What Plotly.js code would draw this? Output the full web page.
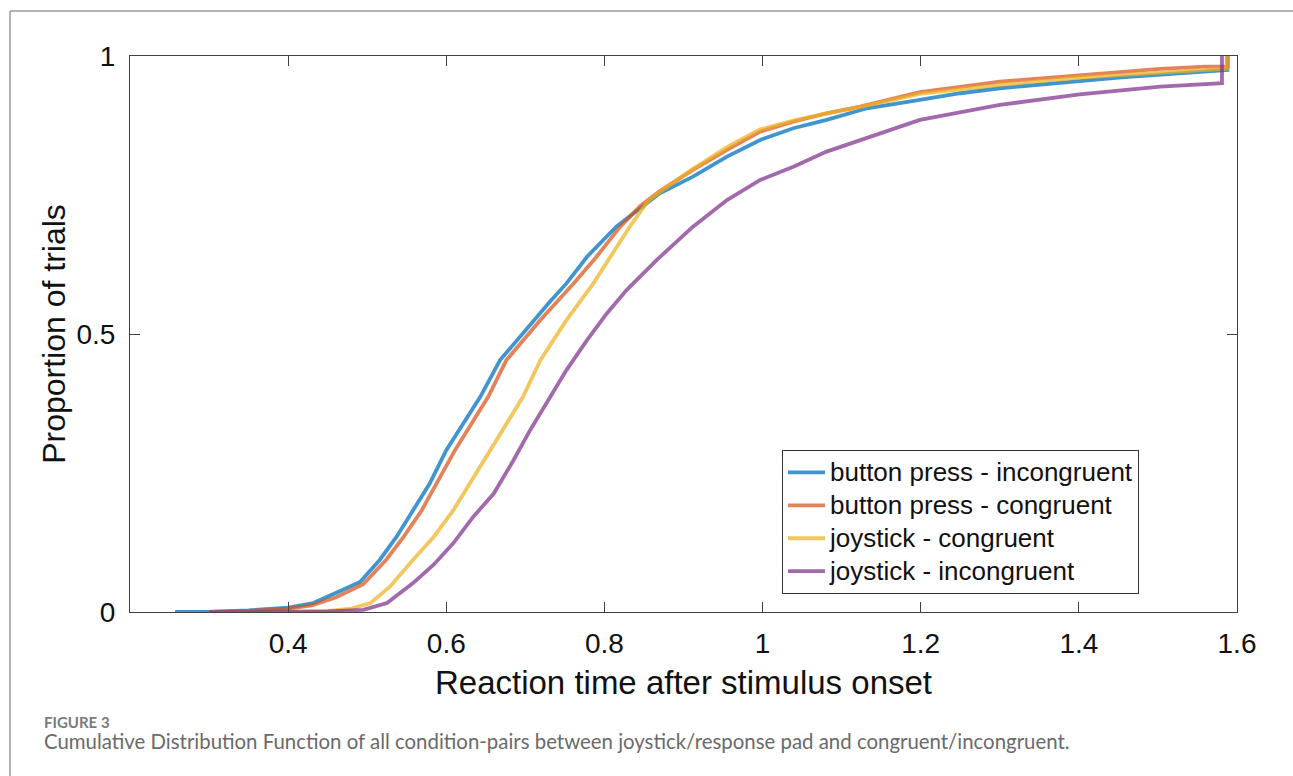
<!DOCTYPE html>
<html>
<head>
<meta charset="utf-8">
<script src="https://cdn.plot.ly/plotly-3.0.1.min.js"></script>
<style>
html,body{margin:0;padding:0;background:#fff;}
#chart{width:1293px;height:776px;}
</style>
</head>
<body>
<div id="chart"></div>
<script>
// ---- data ----
const seriesNames = [
  "button press - incongruent",
  "button press - congruent",
  "joystick - congruent",
  "joystick - incongruent"
];

const bpIncX = [0.257, 0.30, 0.35, 0.40, 0.432, 0.461, 0.491, 0.516, 0.537, 0.558, 0.579, 0.600, 0.622, 0.643, 0.668, 0.690, 0.710, 0.731, 0.752, 0.778, 0.815, 0.853, 0.870, 0.912, 0.955, 0.997, 1.039, 1.081, 1.132, 1.199, 1.250, 1.300, 1.350, 1.401, 1.450, 1.503, 1.550, 1.588, 1.588];
const bpIncY = [0, 0, 0.003, 0.008, 0.016, 0.034, 0.054, 0.094, 0.135, 0.183, 0.231, 0.291, 0.339, 0.387, 0.453, 0.490, 0.525, 0.558, 0.591, 0.639, 0.693, 0.735, 0.753, 0.783, 0.819, 0.849, 0.870, 0.885, 0.906, 0.921, 0.933, 0.942, 0.949, 0.955, 0.961, 0.967, 0.971, 0.975, 1];

const bpConX = [0.30, 0.35, 0.40, 0.43, 0.46, 0.495, 0.524, 0.546, 0.569, 0.588, 0.611, 0.632, 0.653, 0.676, 0.719, 0.761, 0.790, 0.820, 0.845, 0.870, 0.912, 0.955, 0.997, 1.039, 1.081, 1.123, 1.199, 1.300, 1.401, 1.503, 1.560, 1.588, 1.588];
const bpConY = [0, 0.002, 0.006, 0.012, 0.026, 0.050, 0.094, 0.135, 0.183, 0.231, 0.291, 0.339, 0.387, 0.453, 0.525, 0.591, 0.639, 0.693, 0.730, 0.757, 0.795, 0.831, 0.864, 0.882, 0.897, 0.909, 0.935, 0.954, 0.966, 0.977, 0.981, 0.981, 1];

const jsConX = [0.30, 0.40, 0.45, 0.48, 0.504, 0.529, 0.558, 0.584, 0.609, 0.630, 0.655, 0.676, 0.697, 0.719, 0.752, 0.786, 0.807, 0.832, 0.853, 0.862, 0.912, 0.955, 0.997, 1.039, 1.081, 1.123, 1.199, 1.300, 1.401, 1.503, 1.560, 1.587, 1.587];
const jsConY = [0, 0, 0.002, 0.006, 0.016, 0.046, 0.094, 0.135, 0.183, 0.231, 0.291, 0.339, 0.387, 0.453, 0.525, 0.591, 0.639, 0.693, 0.735, 0.747, 0.797, 0.836, 0.868, 0.884, 0.897, 0.908, 0.932, 0.948, 0.961, 0.971, 0.975, 0.977, 1];

const jsIncX = [0.30, 0.40, 0.45, 0.495, 0.525, 0.558, 0.584, 0.609, 0.634, 0.660, 0.685, 0.706, 0.721, 0.752, 0.778, 0.803, 0.828, 0.858, 0.866, 0.912, 0.955, 0.997, 1.039, 1.081, 1.132, 1.199, 1.300, 1.401, 1.503, 1.581, 1.581];
const jsIncY = [0, 0, 0.001, 0.004, 0.016, 0.052, 0.085, 0.124, 0.171, 0.213, 0.273, 0.327, 0.363, 0.435, 0.489, 0.537, 0.579, 0.621, 0.633, 0.693, 0.741, 0.777, 0.801, 0.828, 0.852, 0.885, 0.912, 0.931, 0.945, 0.951, 1];

const xTickVals = [0.4, 0.6, 0.8, 1.0, 1.2, 1.4, 1.6];
const xTickText = ["0.4", "0.6", "0.8", "1", "1.2", "1.4", "1.6"];
const yTickVals = [0, 0.5, 1];
const yTickText = ["0", "0.5", "1"];

const xTitle = "Reaction time after stimulus onset";
const yTitle = "Proportion of trials";
const figLabel = "FIGURE 3";
const caption = "Cumulative Distribution Function of all condition-pairs between joystick/response pad and congruent/incongruent.";

// ---- styling ----
const colors = ["rgba(0,114,189,0.75)", "rgba(217,83,25,0.72)", "rgba(237,177,32,0.72)", "rgba(126,47,142,0.72)"];
const xs = [bpIncX, bpConX, jsConX, jsIncX];
const ys = [bpIncY, bpConY, jsConY, jsIncY];

const traces = seriesNames.map((n, i) => ({
  type: "scatter",
  mode: "lines",
  name: '<span style="font-size:26px">' + n + '</span>',
  x: xs[i],
  y: ys[i],
  line: {color: colors[i], width: 3.8},
  hoverinfo: "skip"
}));

const L = 130, R = 56, T = 56, B = 164;
const W = 1293, H = 776;
const pw = W - L - R, ph = H - T - B;
const px = v => (v - L) / pw;         // pixel x -> paper x
const py = v => (H - B - v) / ph;     // pixel y -> paper y

const axisColor = "#404040";
const layout = {
  width: W, height: H,
  margin: {l: L, r: R, t: T, b: B, pad: 0},
  paper_bgcolor: "#fff",
  plot_bgcolor: "#fff",
  font: {family: "Liberation Sans, Arial, sans-serif", color: "#111"},
  showlegend: true,
  legend: {
    x: px(782), y: py(450), xanchor: "left", yanchor: "top",
    bgcolor: "#fff", bordercolor: "#333", borderwidth: 1,
    font: {size: 23, family: "Liberation Sans, Arial, sans-serif", color: "#111"},
    itemwidth: 37,
    tracegroupgap: 0
  },
  xaxis: {
    range: [0.2, 1.6],
    tickmode: "array", tickvals: xTickVals, ticktext: xTickText,
    ticks: "inside", ticklen: 10, tickwidth: 1, tickcolor: axisColor,
    showline: true, linecolor: axisColor, linewidth: 1, mirror: "ticks",
    showgrid: false, zeroline: false,
    tickfont: {size: 28, color: "#111"},
    ticklabelstandoff: 6,
    title: {text: xTitle, font: {size: 33, color: "#111"}, standoff: 13}
  },
  yaxis: {
    range: [0, 1],
    tickmode: "array", tickvals: yTickVals, ticktext: yTickText,
    ticks: "inside", ticklen: 10, tickwidth: 1, tickcolor: axisColor,
    showline: true, linecolor: axisColor, linewidth: 1, mirror: "ticks",
    showgrid: false, zeroline: false,
    tickfont: {size: 28, color: "#111"},
    ticklabelstandoff: 8,
    title: {text: yTitle, font: {size: 32, color: "#111"}, standoff: 1}
  },
  shapes: [
    {type: "line", xref: "paper", yref: "paper", x0: px(10), x1: px(1300), y0: py(11), y1: py(11), line: {color: "#9a9a9a", width: 1.5}},
    {type: "line", xref: "paper", yref: "paper", x0: px(10), x1: px(10), y0: py(11), y1: py(790), line: {color: "#9a9a9a", width: 1.5}}
  ],
  annotations: [
    {xref: "paper", yref: "paper", x: px(42), y: py(722), xanchor: "left", yanchor: "middle", showarrow: false,
     text: "<b>" + figLabel + "</b>", font: {family: "Lato, Open Sans, sans-serif", size: 15, color: "#7a7a7a"}},
    {xref: "paper", yref: "paper", x: px(42), y: py(741), xanchor: "left", yanchor: "middle", showarrow: false,
     text: caption, font: {family: "Lato, Open Sans, sans-serif", size: 20.4, color: "#6a6a6a"}}
  ]
};

Plotly.newPlot("chart", traces, layout, {displayModeBar: false, staticPlot: true});
</script>
</body>
</html>
